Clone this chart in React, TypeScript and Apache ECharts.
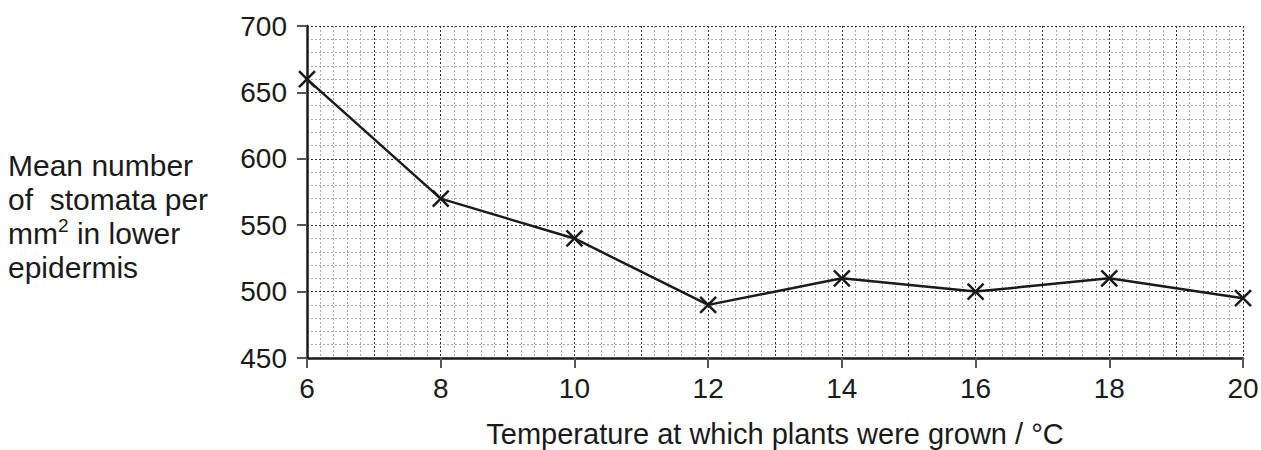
import React, { useEffect, useRef } from "react";
import * as echarts from "echarts";

const temperatures = [6, 8, 10, 12, 14, 16, 18, 20];
const stomata = [660, 570, 540, 490, 510, 500, 510, 495];
const xTicks = { min: 6, max: 20, labelStep: 2, majorStep: 1, minorSplits: 5 };
const yTicks = { min: 450, max: 700, step: 50, minorSplits: 5 };
const xTitle = "Temperature at which plants were grown / °C";
const yTitleLines = ["Mean number", "of  stomata per", "mm{sup|2} in lower", "epidermis"];

const FONT = "'Liberation Sans', Arial, sans-serif";
const INK = "#1a1a1a";

export default function App() {
  const ref = useRef<HTMLDivElement>(null);
  useEffect(() => {
    document.body.style.margin = "0";
    const chart = echarts.init(ref.current!, null, { renderer: "svg" });
    const grid = { left: 307, right: 18, top: 26, bottom: 92, containLabel: false, outerBoundsMode: "none" };
    const data = temperatures.map((t, i) => [t, stomata[i]]);
    chart.setOption({
      animation: false,
      grid,
      xAxis: [
        {
          type: "value",
          min: xTicks.min,
          max: xTicks.max,
          interval: xTicks.labelStep,
          axisLine: { show: true, onZero: false, lineStyle: { color: INK, width: 2.5 } },
          axisTick: { show: true, length: 10, lineStyle: { color: "#555", width: 2 } },
          axisLabel: { fontSize: 28, color: INK, fontFamily: FONT, margin: 16 },
          splitLine: { show: false },
          name: xTitle,
          nameLocation: "middle",
          nameGap: 61,
          nameTextStyle: { fontSize: 29, color: INK, fontFamily: FONT },
          z: 5,
        },
        {
          type: "value",
          min: xTicks.min,
          max: xTicks.max,
          interval: xTicks.majorStep,
          axisLine: { show: false },
          axisTick: { show: false },
          axisLabel: { show: false },
          splitLine: { show: true, lineStyle: { color: "#333", type: [2, 2], width: 1 } },
          minorTick: { show: false, splitNumber: xTicks.minorSplits },
          minorSplitLine: { show: true, lineStyle: { color: "#aaa", type: [2, 2], width: 1 } },
        },
      ],
      yAxis: [
        {
          type: "value",
          min: yTicks.min,
          max: yTicks.max,
          interval: yTicks.step,
          axisLine: { show: true, onZero: false, lineStyle: { color: INK, width: 2.5 } },
          axisTick: { show: true, length: 10, lineStyle: { color: "#555", width: 2 } },
          axisLabel: { fontSize: 28, color: INK, fontFamily: FONT, margin: 20 },
          splitLine: { show: true, lineStyle: { color: "#333", type: [2, 2], width: 1 } },
          minorTick: { show: false, splitNumber: yTicks.minorSplits },
          minorSplitLine: { show: true, lineStyle: { color: "#aaa", type: [2, 2], width: 1 } },
          z: 5,
        },
      ],
      graphic: [
        {
          type: "text",
          left: 8,
          top: 148,
          style: {
            text: yTitleLines.join("\n"),
            fontSize: 30,
            fontFamily: FONT,
            fill: INK,
            lineHeight: 34,
            rich: {
              sup: { fontSize: 19, fontFamily: FONT, fill: INK, verticalAlign: "top", padding: [0, 0, 10, 0] },
            },
          },
        },
      ],
      series: [
        {
          type: "line",
          xAxisIndex: 0,
          yAxisIndex: 0,
          data,
          symbol: "path://M0,0 L10,10 M10,0 L0,10",
          symbolSize: 16,
          lineStyle: { color: INK, width: 2.5 },
          itemStyle: { color: INK, borderColor: INK, borderWidth: 2.5 },
          z: 10,
        },
      ],
    });
    return () => chart.dispose();
  }, []);
  return <div ref={ref} style={{ width: 1261, height: 450 }} />;
}
